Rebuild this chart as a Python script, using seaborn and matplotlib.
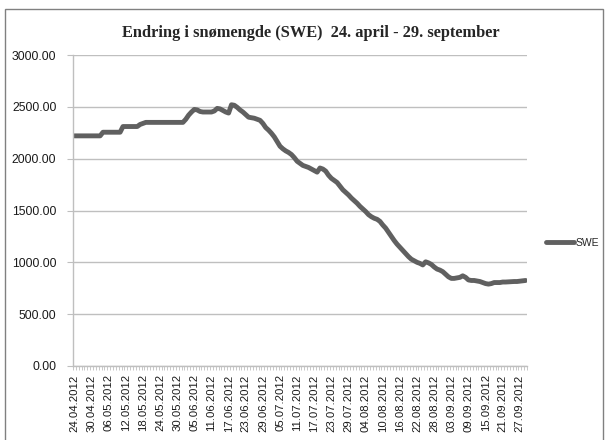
import numpy as np
import pandas as pd
import matplotlib
matplotlib.use("Agg")
import matplotlib.pyplot as plt
from matplotlib.patches import Rectangle
import seaborn as sns

# Daily dates 24.04.2012 - 29.09.2012
dates = pd.date_range("2012-04-24", "2012-09-29", freq="D")
date_labels = [d.strftime("%d.%m.%Y") for d in dates]

# SWE values, one per day
swe = [
    2220, 2220, 2220, 2220, 2220, 2220, 2220, 2220, 2220, 2220,
    2255, 2255, 2255, 2255, 2255, 2255, 2255,
    2310, 2310, 2310, 2310, 2310, 2310,
    2330, 2340, 2350,
    2350, 2350, 2350, 2350, 2350, 2350, 2350, 2350, 2350, 2350, 2350, 2350, 2350,
    2380, 2420, 2450, 2475, 2470, 2455, 2450, 2450, 2450, 2450, 2460,
    2485, 2480, 2465, 2450, 2440, 2520, 2515, 2495, 2470, 2450,
    2425, 2400, 2395, 2390, 2380, 2370, 2340, 2300, 2275, 2245,
    2210, 2165, 2120, 2095, 2075, 2060, 2040, 2010, 1975, 1955,
    1935, 1925, 1915, 1900, 1885, 1870, 1910, 1900, 1880, 1840,
    1810, 1790, 1770, 1735, 1700, 1675, 1650, 1620, 1595, 1570,
    1540, 1515, 1490, 1460, 1440, 1425, 1415, 1395, 1360, 1330,
    1290, 1250, 1210, 1175, 1145, 1115, 1085, 1055, 1030, 1015,
    1000, 990, 975, 1005, 995, 980, 955, 935, 925, 910,
    885, 860, 845, 845, 850, 855, 870, 855, 830, 825,
    825, 820, 815, 805, 795, 790, 795, 805, 805, 805,
    810, 810, 812, 815, 815, 815, 818, 820, 825,
]

y_ticks = [0, 500, 1000, 1500, 2000, 2500, 3000]
title = "Endring i snømengde (SWE)  24. april - 29. september"

sns.set_style("white")
plt.rcParams["font.family"] = ["Liberation Sans", "DejaVu Sans"]

W, H = 609, 440
fig = plt.figure(figsize=(W / 100, H / 100), dpi=100)
ax = fig.add_axes([73 / W, 1 - 366 / H, (527 - 73) / W, (366 - 55) / H])

df = pd.DataFrame({"day": np.arange(len(swe)), "SWE": swe})
sns.lineplot(data=df, x="day", y="SWE", ax=ax, color="#606060",
             linewidth=3.5, label="SWE", solid_capstyle="round")

grid_c = "#bfbfbf"
ax.set_xlim(-0.5, len(swe) - 0.5)
ax.set_ylim(0, 3000)
ax.set_yticks(y_ticks)
ax.set_yticklabels([f"{v:.2f}" for v in y_ticks])
ax.yaxis.grid(True, color=grid_c, linewidth=1.0)
ax.set_axisbelow(True)

major = list(range(0, len(swe), 6))
ax.set_xticks(major)
ax.set_xticklabels([date_labels[i] for i in major], rotation=90)
ax.set_xticks(np.arange(-0.5, len(swe), 1), minor=True)
ax.tick_params(axis="x", which="major", length=0, pad=6, labelsize=8.2,
               labelcolor="#1a1a1a")
ax.tick_params(axis="x", which="minor", length=3, color=grid_c, width=0.6,
               bottom=True)
ax.tick_params(axis="y", length=4, color=grid_c, pad=8, labelsize=8.8,
               labelcolor="#1a1a1a", left=True)

for side in ["top", "right"]:
    ax.spines[side].set_visible(False)
for side in ["left", "bottom"]:
    ax.spines[side].set_color(grid_c)
    ax.spines[side].set_linewidth(1.0)
ax.set_xlabel("")
ax.set_ylabel("")

fig.text(311 / W, 1 - 33 / H, title, ha="center", va="center",
         fontsize=11.8, fontweight="bold", family="Liberation Serif")

ax.legend(loc="center left", bbox_to_anchor=(546 / W, 1 - 243 / H),
          bbox_transform=fig.transFigure, frameon=False, fontsize=7.5,
          handlelength=2.7, handletextpad=0.15, borderpad=0, borderaxespad=0)

fig.patches.append(Rectangle((5 / W, -0.05), (603 - 5) / W, 1.05 - 9 / H,
                             transform=fig.transFigure, fill=False,
                             edgecolor="#808080", linewidth=1.0))

fig.savefig("out.png", dpi=100)
